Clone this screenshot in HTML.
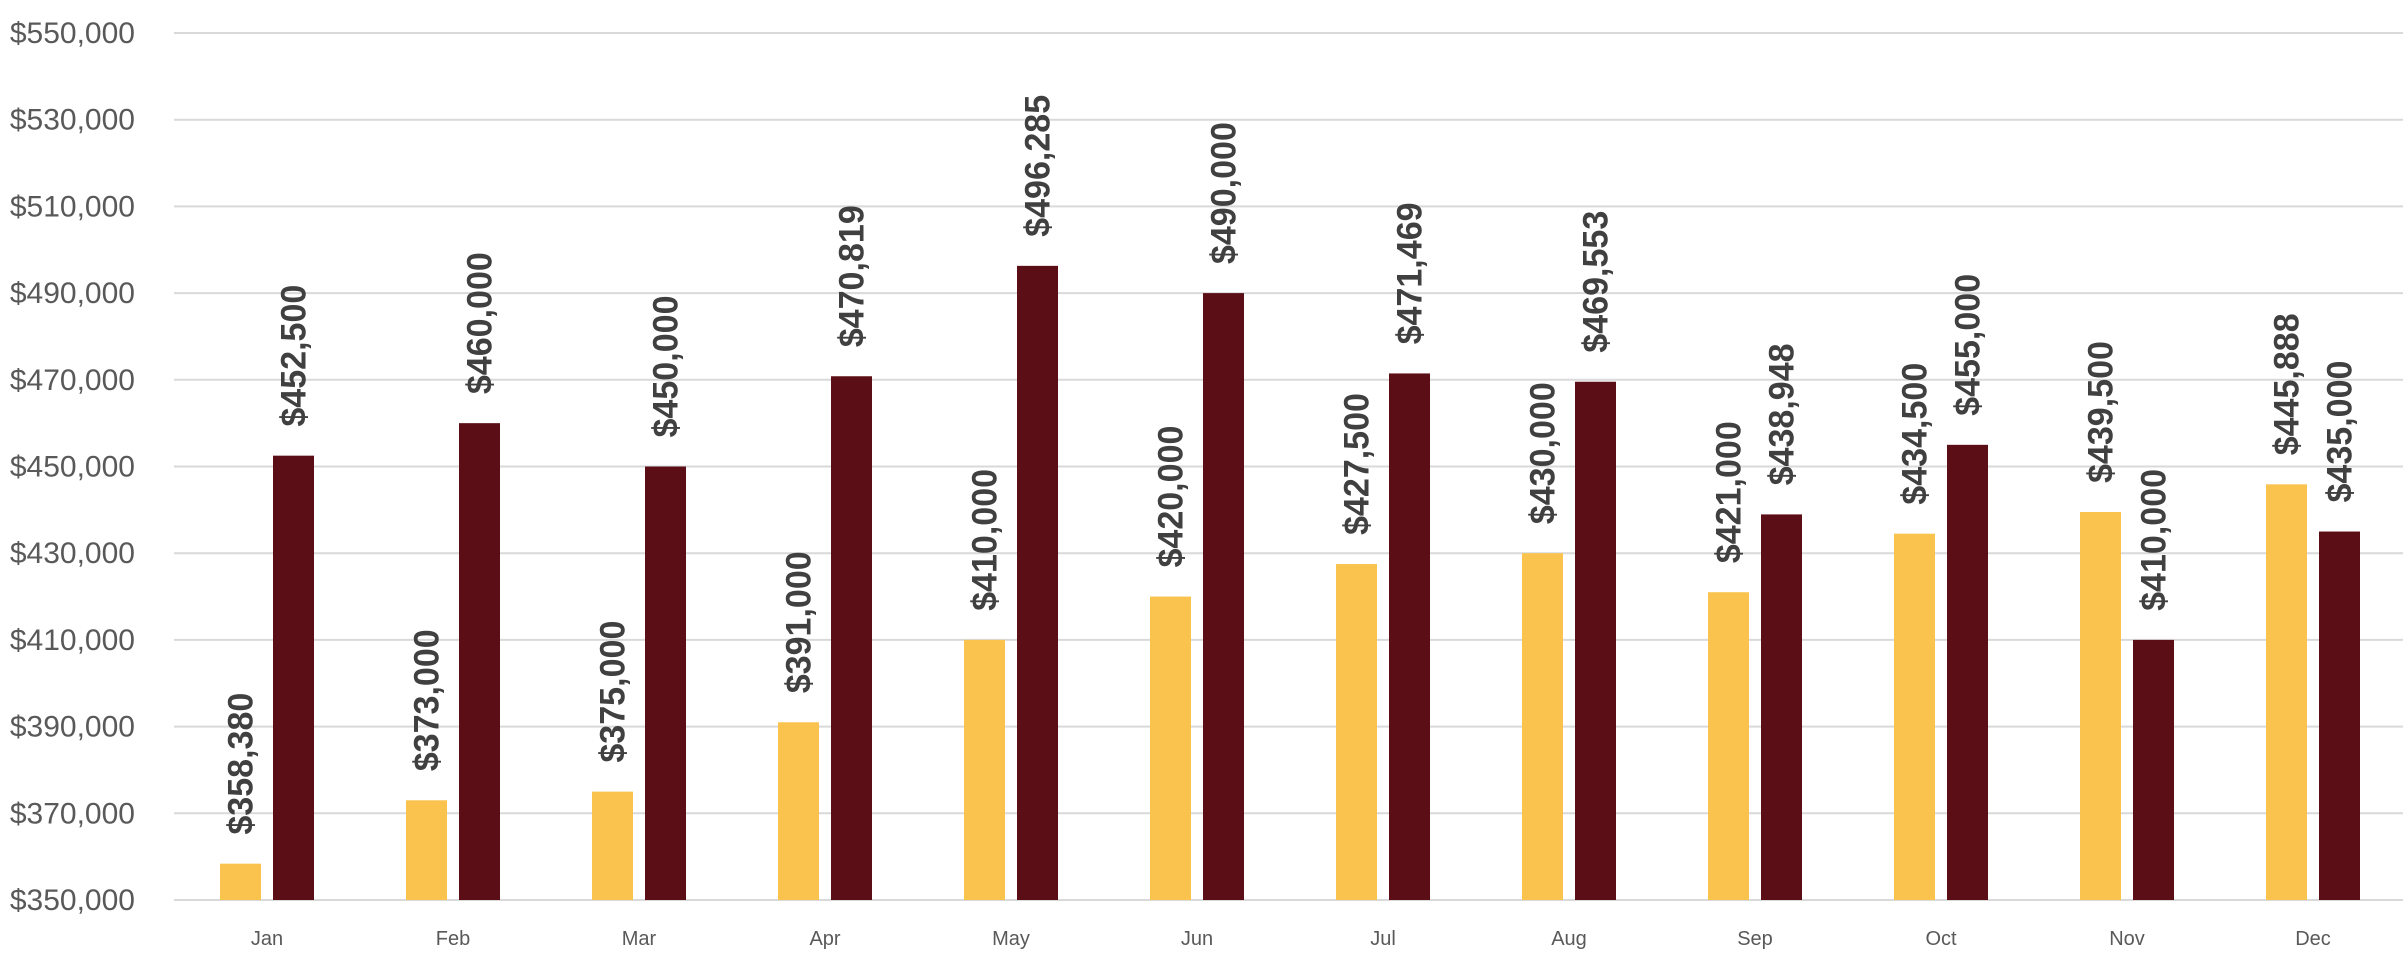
<!DOCTYPE html>
<html><head><meta charset="utf-8"><style>
html,body{margin:0;padding:0;background:#fff;}
svg{display:block;}
</style></head><body>
<svg id="chart" width="2403" height="973" viewBox="0 0 2403 973" xmlns="http://www.w3.org/2000/svg" font-family="'Liberation Sans', sans-serif">
<g id="grid"></g>
<g id="yaxis"></g>
<g id="bars"></g>
<g id="labels"></g>
<g id="xaxis"></g>
</svg>
<script>
const categories = ["Jan","Feb","Mar","Apr","May","Jun","Jul","Aug","Sep","Oct","Nov","Dec"];
const seriesA = [358380,373000,375000,391000,410000,420000,427500,430000,421000,434500,439500,445888];
const seriesB = [452500,460000,450000,470819,496285,490000,471469,469553,438948,455000,410000,435000];
const yTicks = [350000,370000,390000,410000,430000,450000,470000,490000,510000,530000,550000];

const NS = "http://www.w3.org/2000/svg";
const plotL = 174, plotR = 2406, yTop = 33, yBot = 900;
const yMin = 350000, yMax = 550000;
const catW = (plotR - plotL) / categories.length;
function yScale(v){ return yBot - (v - yMin) / (yMax - yMin) * (yBot - yTop); }
function xCenter(i){ return plotL + catW * (i + 0.5); }
function fmt(v){ return "$" + v.toLocaleString("en-US"); }
function mk(tag, attrs, parent){ const e = document.createElementNS(NS, tag); for (const k in attrs) e.setAttribute(k, attrs[k]); parent.appendChild(e); return e; }

const grid = document.getElementById("grid");
const yaxis = document.getElementById("yaxis");
yTicks.forEach(t => {
  const y = yScale(t);
  const ln = mk("line", {x1: plotL, x2: plotR, y1: y, y2: y, stroke: "#d9d9d9", "stroke-width": 2}, grid);
  
  
  const tx = mk("text", {x: 135, y: y + 10, "text-anchor": "end", "font-size": 30, fill: "#595959"}, yaxis);
  tx.textContent = fmt(t);
  
  
});

const bars = document.getElementById("bars");
const labels = document.getElementById("labels");
const xaxis = document.getElementById("xaxis");
const bw = 41, gap = 6;
function drawBar(v, cx, color, name){
  const y = yScale(v);
  const r = mk("rect", {x: cx - bw/2, y: y, width: bw, height: yBot - y, fill: color}, bars);
  
  
  const s = fmt(v);
  const t = mk("text", {x: 0, y: 0, transform: `translate(${cx + 12},${y - 29}) rotate(-90)`, "font-size": 35, "font-weight": "bold", fill: "#404040", textLength: s.length * 17.75, lengthAdjust: "spacingAndGlyphs"}, labels);
  t.textContent = s;
  
  
}
categories.forEach((c, i) => {
  const cx = xCenter(i);
  drawBar(seriesA[i], cx - gap - bw/2, "#F9C34E", "bar-" + c.toLowerCase() + "-a");
  drawBar(seriesB[i], cx + gap + bw/2, "#5C0E17", "bar-" + c.toLowerCase() + "-b");
  const t = mk("text", {x: cx, y: 945, "text-anchor": "middle", "font-size": 20, fill: "#595959"}, xaxis);
  t.textContent = c;
  
  
});
</script>
</body></html>
